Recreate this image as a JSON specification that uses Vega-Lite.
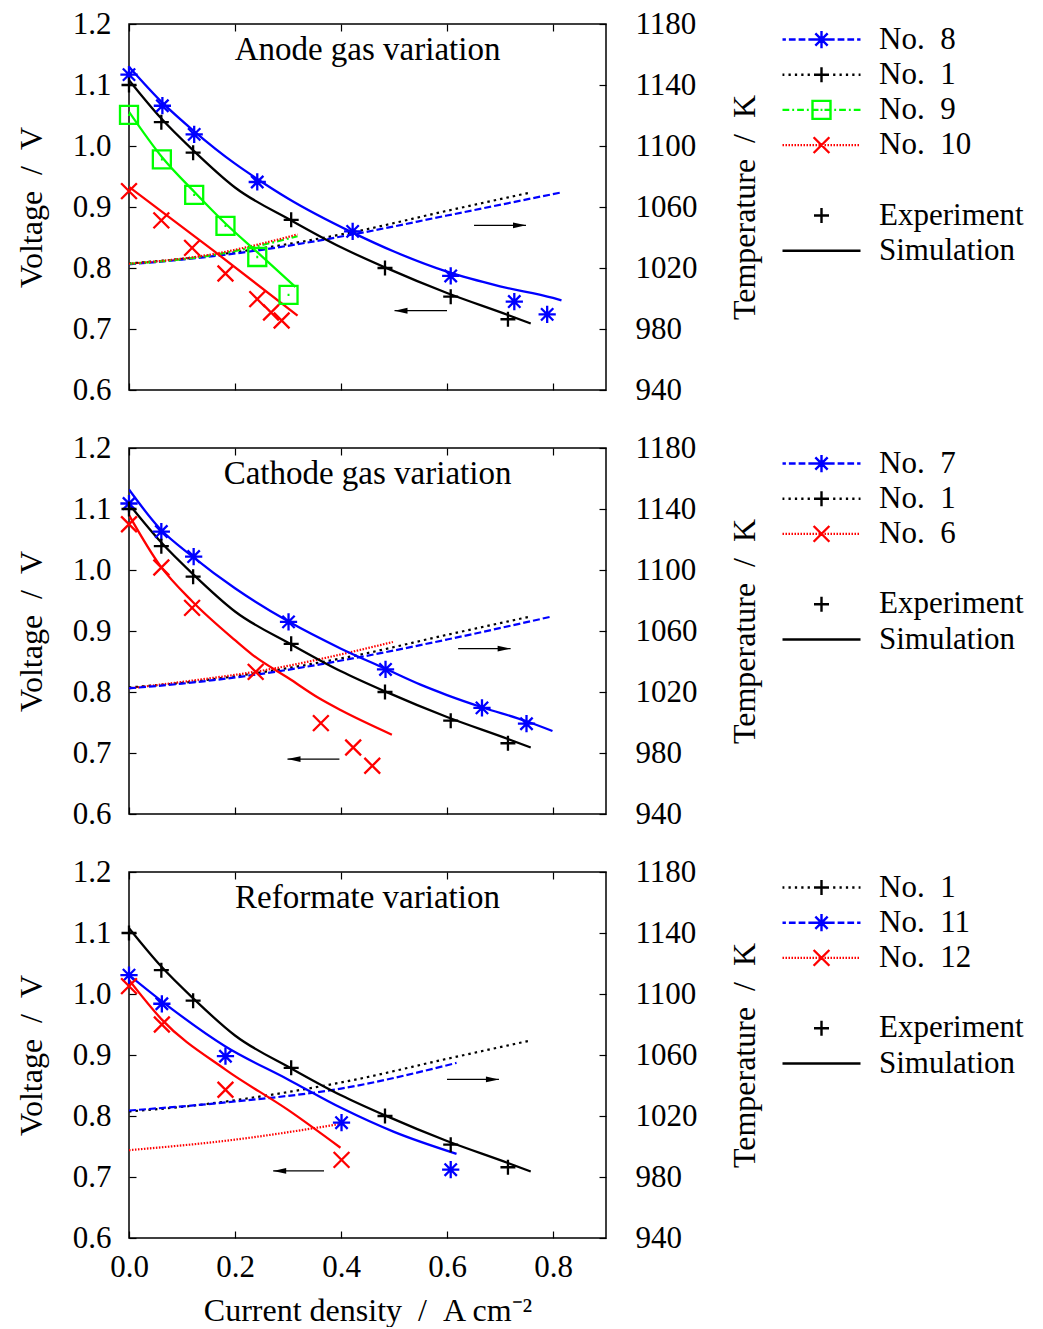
{
  "$schema": "https://vega.github.io/schema/vega-lite/v6.json",
  "background": "white",
  "padding": {"left": 14, "top": 7, "right": 0, "bottom": 0},
  "bounds": "flush",
  "spacing": 58,
  "config": {
    "view": {"stroke": "black", "strokeWidth": 1.5},
    "font": "Liberation Serif",
    "axis": {
      "labelFont": "Liberation Serif", "titleFont": "Liberation Serif",
      "labelFontSize": 31, "titleFontSize": 32, "labelColor": "black", "titleColor": "black",
      "titleFontWeight": "normal", "tickColor": "black", "tickWidth": 1.2, "tickSize": -7,
      "domain": false, "grid": false, "labelFlush": false, "labelOverlap": false
    }
  },
  "datasets": {
    "sim": [
      {"panel":1,"series":"No. 8","x":0,"v":1.130},{"panel":1,"series":"No. 8","x":0.063,"v":1.071},{"panel":1,"series":"No. 8","x":0.123,"v":1.024},{"panel":1,"series":"No. 8","x":0.2,"v":0.971},{"panel":1,"series":"No. 8","x":0.242,"v":0.946},{"panel":1,"series":"No. 8","x":0.3,"v":0.914},{"panel":1,"series":"No. 8","x":0.422,"v":0.858},{"panel":1,"series":"No. 8","x":0.5,"v":0.827},{"panel":1,"series":"No. 8","x":0.6,"v":0.794},{"panel":1,"series":"No. 8","x":0.7,"v":0.770},{"panel":1,"series":"No. 8","x":0.8,"v":0.751},{"panel":1,"series":"No. 8","x":0.816,"v":0.747},
      {"panel":1,"series":"No. 1","x":0,"v":1.108},{"panel":1,"series":"No. 1","x":0.061,"v":1.045},{"panel":1,"series":"No. 1","x":0.121,"v":0.993},{"panel":1,"series":"No. 1","x":0.2,"v":0.932},{"panel":1,"series":"No. 1","x":0.306,"v":0.878},{"panel":1,"series":"No. 1","x":0.4,"v":0.834},{"panel":1,"series":"No. 1","x":0.483,"v":0.801},{"panel":1,"series":"No. 1","x":0.6,"v":0.759},{"panel":1,"series":"No. 1","x":0.715,"v":0.723},{"panel":1,"series":"No. 1","x":0.758,"v":0.709},
      {"panel":1,"series":"No. 9","x":0,"v":1.056},{"panel":1,"series":"No. 9","x":0.062,"v":0.982},{"panel":1,"series":"No. 9","x":0.123,"v":0.925},{"panel":1,"series":"No. 9","x":0.182,"v":0.873},{"panel":1,"series":"No. 9","x":0.242,"v":0.826},{"panel":1,"series":"No. 9","x":0.314,"v":0.769},
      {"panel":1,"series":"No. 10","x":0,"v":0.933},{"panel":1,"series":"No. 10","x":0.16,"v":0.828},{"panel":1,"series":"No. 10","x":0.318,"v":0.722},
      {"panel":2,"series":"No. 7","x":0,"v":1.132},{"panel":2,"series":"No. 7","x":0.058,"v":1.068},{"panel":2,"series":"No. 7","x":0.12,"v":1.022},{"panel":2,"series":"No. 7","x":0.2,"v":0.970},{"panel":2,"series":"No. 7","x":0.302,"v":0.915},{"panel":2,"series":"No. 7","x":0.4,"v":0.871},{"panel":2,"series":"No. 7","x":0.484,"v":0.838},{"panel":2,"series":"No. 7","x":0.55,"v":0.812},{"panel":2,"series":"No. 7","x":0.6,"v":0.795},{"panel":2,"series":"No. 7","x":0.666,"v":0.775},{"panel":2,"series":"No. 7","x":0.75,"v":0.752},{"panel":2,"series":"No. 7","x":0.799,"v":0.736},
      {"panel":2,"series":"No. 1","x":0,"v":1.108},{"panel":2,"series":"No. 1","x":0.061,"v":1.045},{"panel":2,"series":"No. 1","x":0.121,"v":0.993},{"panel":2,"series":"No. 1","x":0.2,"v":0.932},{"panel":2,"series":"No. 1","x":0.306,"v":0.878},{"panel":2,"series":"No. 1","x":0.4,"v":0.834},{"panel":2,"series":"No. 1","x":0.483,"v":0.801},{"panel":2,"series":"No. 1","x":0.6,"v":0.759},{"panel":2,"series":"No. 1","x":0.715,"v":0.723},{"panel":2,"series":"No. 1","x":0.758,"v":0.709},
      {"panel":2,"series":"No. 6","x":0,"v":1.090},{"panel":2,"series":"No. 6","x":0.058,"v":1.008},{"panel":2,"series":"No. 6","x":0.12,"v":0.948},{"panel":2,"series":"No. 6","x":0.2,"v":0.885},{"panel":2,"series":"No. 6","x":0.233,"v":0.861},{"panel":2,"series":"No. 6","x":0.302,"v":0.822},{"panel":2,"series":"No. 6","x":0.358,"v":0.790},{"panel":2,"series":"No. 6","x":0.4,"v":0.770},{"panel":2,"series":"No. 6","x":0.496,"v":0.730},
      {"panel":3,"series":"No. 1","x":0,"v":1.108},{"panel":3,"series":"No. 1","x":0.061,"v":1.045},{"panel":3,"series":"No. 1","x":0.121,"v":0.993},{"panel":3,"series":"No. 1","x":0.2,"v":0.932},{"panel":3,"series":"No. 1","x":0.306,"v":0.878},{"panel":3,"series":"No. 1","x":0.4,"v":0.834},{"panel":3,"series":"No. 1","x":0.483,"v":0.801},{"panel":3,"series":"No. 1","x":0.6,"v":0.759},{"panel":3,"series":"No. 1","x":0.715,"v":0.723},{"panel":3,"series":"No. 1","x":0.758,"v":0.709},
      {"panel":3,"series":"No. 11","x":0,"v":1.031},{"panel":3,"series":"No. 11","x":0.062,"v":0.988},{"panel":3,"series":"No. 11","x":0.182,"v":0.914},{"panel":3,"series":"No. 11","x":0.3,"v":0.860},{"panel":3,"series":"No. 11","x":0.401,"v":0.813},{"panel":3,"series":"No. 11","x":0.5,"v":0.774},{"panel":3,"series":"No. 11","x":0.618,"v":0.738},
      {"panel":3,"series":"No. 12","x":0,"v":1.023},{"panel":3,"series":"No. 12","x":0.062,"v":0.958},{"panel":3,"series":"No. 12","x":0.182,"v":0.876},{"panel":3,"series":"No. 12","x":0.3,"v":0.810},{"panel":3,"series":"No. 12","x":0.399,"v":0.748}
    ],
    "exp": [
      {"panel":1,"series":"No. 8","x":0,"v":1.117},{"panel":1,"series":"No. 8","x":0.063,"v":1.066},{"panel":1,"series":"No. 8","x":0.123,"v":1.019},{"panel":1,"series":"No. 8","x":0.242,"v":0.941},{"panel":1,"series":"No. 8","x":0.422,"v":0.860},{"panel":1,"series":"No. 8","x":0.607,"v":0.787},{"panel":1,"series":"No. 8","x":0.727,"v":0.745},{"panel":1,"series":"No. 8","x":0.789,"v":0.724},
      {"panel":1,"series":"No. 1","x":0,"v":1.100},{"panel":1,"series":"No. 1","x":0.061,"v":1.039},{"panel":1,"series":"No. 1","x":0.121,"v":0.989},{"panel":1,"series":"No. 1","x":0.306,"v":0.879},{"panel":1,"series":"No. 1","x":0.483,"v":0.800},{"panel":1,"series":"No. 1","x":0.607,"v":0.753},{"panel":1,"series":"No. 1","x":0.715,"v":0.716},
      {"panel":1,"series":"No. 9","x":0,"v":1.051},{"panel":1,"series":"No. 9","x":0.062,"v":0.978},{"panel":1,"series":"No. 9","x":0.123,"v":0.920},{"panel":1,"series":"No. 9","x":0.182,"v":0.869},{"panel":1,"series":"No. 9","x":0.242,"v":0.818},{"panel":1,"series":"No. 9","x":0.301,"v":0.756},
      {"panel":1,"series":"No. 10","x":0,"v":0.926},{"panel":1,"series":"No. 10","x":0.061,"v":0.878},{"panel":1,"series":"No. 10","x":0.119,"v":0.833},{"panel":1,"series":"No. 10","x":0.182,"v":0.791},{"panel":1,"series":"No. 10","x":0.242,"v":0.749},{"panel":1,"series":"No. 10","x":0.268,"v":0.727},{"panel":1,"series":"No. 10","x":0.288,"v":0.714},
      {"panel":2,"series":"No. 7","x":0,"v":1.109},{"panel":2,"series":"No. 7","x":0.061,"v":1.063},{"panel":2,"series":"No. 7","x":0.122,"v":1.022},{"panel":2,"series":"No. 7","x":0.301,"v":0.915},{"panel":2,"series":"No. 7","x":0.484,"v":0.837},{"panel":2,"series":"No. 7","x":0.666,"v":0.774},{"panel":2,"series":"No. 7","x":0.750,"v":0.748},
      {"panel":2,"series":"No. 1","x":0,"v":1.100},{"panel":2,"series":"No. 1","x":0.061,"v":1.039},{"panel":2,"series":"No. 1","x":0.121,"v":0.989},{"panel":2,"series":"No. 1","x":0.306,"v":0.879},{"panel":2,"series":"No. 1","x":0.483,"v":0.800},{"panel":2,"series":"No. 1","x":0.607,"v":0.753},{"panel":2,"series":"No. 1","x":0.715,"v":0.716},
      {"panel":2,"series":"No. 6","x":0,"v":1.075},{"panel":2,"series":"No. 6","x":0.061,"v":1.004},{"panel":2,"series":"No. 6","x":0.119,"v":0.938},{"panel":2,"series":"No. 6","x":0.239,"v":0.833},{"panel":2,"series":"No. 6","x":0.362,"v":0.749},{"panel":2,"series":"No. 6","x":0.423,"v":0.709},{"panel":2,"series":"No. 6","x":0.459,"v":0.679},
      {"panel":3,"series":"No. 1","x":0,"v":1.100},{"panel":3,"series":"No. 1","x":0.061,"v":1.039},{"panel":3,"series":"No. 1","x":0.121,"v":0.989},{"panel":3,"series":"No. 1","x":0.306,"v":0.879},{"panel":3,"series":"No. 1","x":0.483,"v":0.800},{"panel":3,"series":"No. 1","x":0.607,"v":0.753},{"panel":3,"series":"No. 1","x":0.715,"v":0.716},
      {"panel":3,"series":"No. 11","x":0,"v":1.031},{"panel":3,"series":"No. 11","x":0.062,"v":0.984},{"panel":3,"series":"No. 11","x":0.182,"v":0.898},{"panel":3,"series":"No. 11","x":0.401,"v":0.789},{"panel":3,"series":"No. 11","x":0.607,"v":0.712},
      {"panel":3,"series":"No. 12","x":0,"v":1.013},{"panel":3,"series":"No. 12","x":0.062,"v":0.950},{"panel":3,"series":"No. 12","x":0.182,"v":0.843},{"panel":3,"series":"No. 12","x":0.401,"v":0.728}
    ],
    "temp": [
      {"panel":1,"series":"No. 1","x":0,"T":1023},{"panel":1,"series":"No. 1","x":0.1,"T":1026},{"panel":1,"series":"No. 1","x":0.242,"T":1032.5},{"panel":1,"series":"No. 1","x":0.422,"T":1043.5},{"panel":1,"series":"No. 1","x":0.6,"T":1057.5},{"panel":1,"series":"No. 1","x":0.759,"T":1069.6},
      {"panel":1,"series":"No. 8","x":0,"T":1022.4},{"panel":1,"series":"No. 8","x":0.1,"T":1025.5},{"panel":1,"series":"No. 8","x":0.242,"T":1031.5},{"panel":1,"series":"No. 8","x":0.422,"T":1042},{"panel":1,"series":"No. 8","x":0.6,"T":1054.4},{"panel":1,"series":"No. 8","x":0.816,"T":1069.6},
      {"panel":1,"series":"No. 9","x":0,"T":1022.8},{"panel":1,"series":"No. 9","x":0.15,"T":1028},{"panel":1,"series":"No. 9","x":0.318,"T":1040.8},
      {"panel":1,"series":"No. 10","x":0,"T":1022.8},{"panel":1,"series":"No. 10","x":0.15,"T":1028.6},{"panel":1,"series":"No. 10","x":0.318,"T":1042},
      {"panel":2,"series":"No. 1","x":0,"T":1023},{"panel":2,"series":"No. 1","x":0.1,"T":1026},{"panel":2,"series":"No. 1","x":0.242,"T":1032.5},{"panel":2,"series":"No. 1","x":0.422,"T":1043.5},{"panel":2,"series":"No. 1","x":0.6,"T":1057.5},{"panel":2,"series":"No. 1","x":0.759,"T":1069.6},
      {"panel":2,"series":"No. 6","x":0,"T":1022.4},{"panel":2,"series":"No. 6","x":0.12,"T":1027.5},{"panel":2,"series":"No. 6","x":0.242,"T":1033.5},{"panel":2,"series":"No. 6","x":0.498,"T":1052.8},
      {"panel":2,"series":"No. 7","x":0,"T":1022.4},{"panel":2,"series":"No. 7","x":0.1,"T":1025.5},{"panel":2,"series":"No. 7","x":0.242,"T":1031.5},{"panel":2,"series":"No. 7","x":0.422,"T":1042},{"panel":2,"series":"No. 7","x":0.6,"T":1054.4},{"panel":2,"series":"No. 7","x":0.799,"T":1069.6},
      {"panel":3,"series":"No. 12","x":0,"T":997.6},{"panel":3,"series":"No. 12","x":0.2,"T":1004.5},{"panel":3,"series":"No. 12","x":0.399,"T":1014.8},
      {"panel":3,"series":"No. 1","x":0,"T":1023},{"panel":3,"series":"No. 1","x":0.1,"T":1026},{"panel":3,"series":"No. 1","x":0.242,"T":1032.5},{"panel":3,"series":"No. 1","x":0.422,"T":1043.5},{"panel":3,"series":"No. 1","x":0.6,"T":1057.5},{"panel":3,"series":"No. 1","x":0.759,"T":1069.6},
      {"panel":3,"series":"No. 11","x":0,"T":1023.6},{"panel":3,"series":"No. 11","x":0.2,"T":1029.5},{"panel":3,"series":"No. 11","x":0.4,"T":1038},{"panel":3,"series":"No. 11","x":0.618,"T":1054.8}
    ],
    "arrows": [
      {"panel":1,"dir":"right","x":0.749,"x2":0.651,"v":0.870},{"panel":1,"dir":"left","x":0.501,"x2":0.600,"v":0.730},
      {"panel":2,"dir":"right","x":0.720,"x2":0.621,"v":0.871},{"panel":2,"dir":"left","x":0.299,"x2":0.397,"v":0.690},
      {"panel":3,"dir":"right","x":0.698,"x2":0.600,"v":0.860},{"panel":3,"dir":"left","x":0.272,"x2":0.368,"v":0.710}
    ],
    "labels": [
      {"panel":1,"x":0.45,"v":1.157,"label":"Anode gas variation"},
      {"panel":2,"x":0.45,"v":1.157,"label":"Cathode gas variation"},
      {"panel":3,"x":0.45,"v":1.157,"label":"Reformate variation"}
    ]
  },
  "resolve": {"scale": {"color": "independent", "shape": "independent", "strokeDash": "independent", "opacity": "independent", "x": "independent", "y": "independent"}, "legend": {"opacity": "independent"}},
  "vconcat": [
    {
      "width": 477, "height": 366,
      "resolve": {"scale": {"y": "independent"}, "axis": {"x": "independent", "y": "independent"}},
      "layer": [
        {
          "data": {"name": "temp"}, "transform": [{"filter": "datum.panel == 1"}],
          "mark": {"type": "line", "strokeWidth": 2.2, "clip": true, "interpolate": "monotone"},
          "encoding": {
            "x": {"field": "x", "type": "quantitative", "scale": {"domain": [0, 0.9], "nice": false, "zero": false}, "axis": {"orient": "top", "values": [0, 0.2, 0.4, 0.6, 0.8], "labels": false, "title": null}},
            "y": {"field": "T", "type": "quantitative", "scale": {"domain": [940, 1180], "nice": false, "zero": false}, "axis": {"orient": "right", "values": [940, 980, 1020, 1060, 1100, 1140, 1180], "format": "d", "labelPadding": 36, "title": "Temperature\u2002/\u2002K", "titleAngle": -90, "titlePadding": 64}},
            "color": {"field": "series", "type": "nominal", "scale": {"domain": ["No. 8", "No. 1", "No. 9", "No. 10"], "range": ["#0000ff", "#000000", "#00ff00", "#ff0000"]}, "legend": null},
            "strokeDash": {"field": "series", "type": "nominal", "scale": {"domain": ["No. 8", "No. 1", "No. 9", "No. 10"], "range": [[7, 3], [2.5, 4], [7, 3, 2, 3], [1.5, 1.5]]}, "legend": null}
          }
        },
        {
          "encoding": {
            "x": {"field": "x", "type": "quantitative", "scale": {"domain": [0, 0.9], "nice": false, "zero": false}, "axis": {"orient": "bottom", "values": [0, 0.2, 0.4, 0.6, 0.8], "labels": false, "title": null}},
            "y": {"field": "v", "type": "quantitative", "scale": {"domain": [0.6, 1.2], "nice": false, "zero": false}, "axis": {"orient": "left", "values": [0.6, 0.7, 0.8, 0.9, 1.0, 1.1, 1.2], "format": ".1f", "labelPadding": 25, "title": "Voltage\u2002/\u2002V", "titlePadding": 24}}
          },
          "layer": [
            {
              "data": {"name": "sim"}, "transform": [{"filter": "datum.panel == 1"}],
              "mark": {"type": "line", "strokeWidth": 2.3, "clip": true, "interpolate": "monotone"},
              "encoding": {"color": {"field": "series", "type": "nominal", "scale": {"domain": ["No. 8", "No. 1", "No. 9", "No. 10"], "range": ["#0000ff", "#000000", "#00ff00", "#ff0000"]}, "legend": null}}
            },
            {
              "data": {"name": "exp"}, "transform": [{"filter": "datum.panel == 1"}],
              "mark": {"type": "point", "filled": false, "strokeWidth": 2.3, "size": 225},
              "encoding": {
                "color": {"field": "series", "type": "nominal", "scale": {"domain": ["No. 8", "No. 1", "No. 9", "No. 10"], "range": ["#0000ff", "#000000", "#00ff00", "#ff0000"]}, "legend": null},
                "shape": {"field": "series", "type": "nominal",
                  "scale": {"domain": ["No. 8", "No. 1", "No. 9", "No. 10"], "range": ["M-1.15,0H1.15M0,-1.15V1.15M-0.82,-0.82L0.82,0.82M-0.82,0.82L0.82,-0.82", "M-1,0H1M0,-1V1", "M-1.2,-1.2H1.2V1.2H-1.2ZM-0.13,0H0.13", "M-1.05,-1.05L1.05,1.05M-1.05,1.05L1.05,-1.05"]}, "legend": null},
                "opacity": {"field": "series", "type": "nominal",
                  "scale": {"domain": ["No. 8", "No. 1", "No. 9", "No. 10", " ", "Experiment", "Simulation"], "range": [1, 1, 1, 1, 1, 1, 1]},
                  "legend": {
                    "orient": "none", "legendX": 677, "legendY": 0, "title": null, "direction": "vertical",
                    "symbolSize": 225, "symbolStrokeWidth": 2.4, "padding": 0, "rowPadding": 3.2,
                    "labelFont": "Liberation Serif", "labelFontSize": 31, "labelColor": "black", "labelOffset": 42,
                    "labelExpr": "replace(datum.label, 'No. ', 'No.\u2002')",
                    "encoding": {"symbols": {
                      "shape": {"value": {"signal": "indexof(['No. 8','No. 7','No. 11'], datum.value) >= 0 ? 'M-5.2,0H-4.75M-4.35,0H-3.45M-3.05,0H-2.15M-1.75,0H-0.85M-0.45,0H0.45M0.85,0H1.75M2.15,0H3.05M3.45,0H4.35M4.75,0H5.2M-1.15,0H1.15M0,-1.15V1.15M-0.82,-0.82L0.82,0.82M-0.82,0.82L0.82,-0.82' : datum.value === 'No. 1' ? 'M-5.2,0H-4.95M-4.4,0H-4.1M-3.55,0H-3.25M-2.7,0H-2.4M-1.85,0H-1.55M-1,0H-0.7M-0.15,0H0.15M0.7,0H1M1.55,0H1.85M2.4,0H2.7M3.25,0H3.55M4.1,0H4.4M4.95,0H5.2M-1,0H1M0,-1V1' : datum.value === 'No. 9' ? 'M-5.2,0H-4.3M-3.9,0H-3.65M-3.25,0H-2.35M-1.95,0H-1.7M-1.3,0H-0.4M-0.125,0H0.125M0.4,0H1.3M1.7,0H1.95M2.35,0H3.25M3.65,0H3.9M4.3,0H5.2M-1.2,-1.2H1.2V1.2H-1.2Z' : indexof(['No. 10','No. 6','No. 12'], datum.value) >= 0 ? 'M-5.2,0H-5M-4.8,0H-4.6M-4.4,0H-4.2M-4,0H-3.8M-3.6,0H-3.4M-3.2,0H-3M-2.8,0H-2.6M-2.4,0H-2.2M-2,0H-1.8M-1.6,0H-1.4M-1.2,0H-1M-0.8,0H-0.6M-0.4,0H-0.2M0,0H0.2M0.4,0H0.6M0.8,0H1M1.2,0H1.4M1.6,0H1.8M2,0H2.2M2.4,0H2.6M2.8,0H3M3.2,0H3.4M3.6,0H3.8M4,0H4.2M4.4,0H4.6M4.8,0H5M-1.05,-1.05L1.05,1.05M-1.05,1.05L1.05,-1.05' : datum.value === 'Experiment' ? 'M-1,0H1M0,-1V1' : datum.value === 'Simulation' ? 'M-5.2,0H5.2' : 'M0,0'"}},
                      "stroke": {"value": {"signal": "indexof(['No. 8','No. 7','No. 11'], datum.value) >= 0 ? '#0000ff' : datum.value === 'No. 9' ? '#00ff00' : indexof(['No. 10','No. 6','No. 12'], datum.value) >= 0 ? '#ff0000' : datum.value === ' ' ? 'transparent' : '#000000'"}},
                      "strokeWidth": {"value": 2.4}, "fill": {"value": "transparent"}
                    }}
                  }
                }
              }
            },
            {
              "data": {"name": "arrows"}, "transform": [{"filter": "datum.panel == 1"}],
              "mark": {"type": "rule", "color": "black", "strokeWidth": 1.3},
              "encoding": {"x2": {"field": "x2"}}
            },
            {
              "data": {"name": "arrows"}, "transform": [{"filter": "datum.panel == 1 && datum.dir == 'right'"}],
              "mark": {"type": "point", "shape": "M0,0L-2,-0.45L-2,0.45Z", "filled": true, "size": 169, "color": "black", "opacity": 1, "strokeWidth": 0}
            },
            {
              "data": {"name": "arrows"}, "transform": [{"filter": "datum.panel == 1 && datum.dir == 'left'"}],
              "mark": {"type": "point", "shape": "M0,0L2,-0.45L2,0.45Z", "filled": true, "size": 169, "color": "black", "opacity": 1, "strokeWidth": 0}
            },
            {
              "data": {"name": "labels"}, "transform": [{"filter": "datum.panel == 1"}],
              "mark": {"type": "text", "font": "Liberation Serif", "fontSize": 33, "baseline": "middle", "align": "center", "color": "black"},
              "encoding": {"text": {"field": "label"}}
            }
          ]
        }
      ]
    },
    {
      "width": 477, "height": 366,
      "resolve": {"scale": {"y": "independent"}, "axis": {"x": "independent", "y": "independent"}},
      "layer": [
        {
          "data": {"name": "temp"}, "transform": [{"filter": "datum.panel == 2"}],
          "mark": {"type": "line", "strokeWidth": 2.2, "clip": true, "interpolate": "monotone"},
          "encoding": {
            "x": {"field": "x", "type": "quantitative", "scale": {"domain": [0, 0.9], "nice": false, "zero": false}, "axis": {"orient": "top", "values": [0, 0.2, 0.4, 0.6, 0.8], "labels": false, "title": null}},
            "y": {"field": "T", "type": "quantitative", "scale": {"domain": [940, 1180], "nice": false, "zero": false}, "axis": {"orient": "right", "values": [940, 980, 1020, 1060, 1100, 1140, 1180], "format": "d", "labelPadding": 36, "title": "Temperature\u2002/\u2002K", "titleAngle": -90, "titlePadding": 64}},
            "color": {"field": "series", "type": "nominal", "scale": {"domain": ["No. 7", "No. 1", "No. 6"], "range": ["#0000ff", "#000000", "#ff0000"]}, "legend": null},
            "strokeDash": {"field": "series", "type": "nominal", "scale": {"domain": ["No. 7", "No. 1", "No. 6"], "range": [[7, 3], [2.5, 4], [1.5, 1.5]]}, "legend": null}
          }
        },
        {
          "encoding": {
            "x": {"field": "x", "type": "quantitative", "scale": {"domain": [0, 0.9], "nice": false, "zero": false}, "axis": {"orient": "bottom", "values": [0, 0.2, 0.4, 0.6, 0.8], "labels": false, "title": null}},
            "y": {"field": "v", "type": "quantitative", "scale": {"domain": [0.6, 1.2], "nice": false, "zero": false}, "axis": {"orient": "left", "values": [0.6, 0.7, 0.8, 0.9, 1.0, 1.1, 1.2], "format": ".1f", "labelPadding": 25, "title": "Voltage\u2002/\u2002V", "titlePadding": 24}}
          },
          "layer": [
            {
              "data": {"name": "sim"}, "transform": [{"filter": "datum.panel == 2"}],
              "mark": {"type": "line", "strokeWidth": 2.3, "clip": true, "interpolate": "monotone"},
              "encoding": {"color": {"field": "series", "type": "nominal", "scale": {"domain": ["No. 7", "No. 1", "No. 6"], "range": ["#0000ff", "#000000", "#ff0000"]}, "legend": null}}
            },
            {
              "data": {"name": "exp"}, "transform": [{"filter": "datum.panel == 2"}],
              "mark": {"type": "point", "filled": false, "strokeWidth": 2.3, "size": 225},
              "encoding": {
                "color": {"field": "series", "type": "nominal", "scale": {"domain": ["No. 7", "No. 1", "No. 6"], "range": ["#0000ff", "#000000", "#ff0000"]}, "legend": null},
                "shape": {"field": "series", "type": "nominal",
                  "scale": {"domain": ["No. 7", "No. 1", "No. 6"], "range": ["M-1.15,0H1.15M0,-1.15V1.15M-0.82,-0.82L0.82,0.82M-0.82,0.82L0.82,-0.82", "M-1,0H1M0,-1V1", "M-1.05,-1.05L1.05,1.05M-1.05,1.05L1.05,-1.05"]}, "legend": null},
                "opacity": {"field": "series", "type": "nominal",
                  "scale": {"domain": ["No. 7", "No. 1", "No. 6", " ", "Experiment", "Simulation"], "range": [1, 1, 1, 1, 1, 1]},
                  "legend": {
                    "orient": "none", "legendX": 677, "legendY": 0, "title": null, "direction": "vertical",
                    "symbolSize": 225, "symbolStrokeWidth": 2.4, "padding": 0, "rowPadding": 3.2,
                    "labelFont": "Liberation Serif", "labelFontSize": 31, "labelColor": "black", "labelOffset": 42,
                    "labelExpr": "replace(datum.label, 'No. ', 'No.\u2002')",
                    "encoding": {"symbols": {
                      "shape": {"value": {"signal": "indexof(['No. 8','No. 7','No. 11'], datum.value) >= 0 ? 'M-5.2,0H-4.75M-4.35,0H-3.45M-3.05,0H-2.15M-1.75,0H-0.85M-0.45,0H0.45M0.85,0H1.75M2.15,0H3.05M3.45,0H4.35M4.75,0H5.2M-1.15,0H1.15M0,-1.15V1.15M-0.82,-0.82L0.82,0.82M-0.82,0.82L0.82,-0.82' : datum.value === 'No. 1' ? 'M-5.2,0H-4.95M-4.4,0H-4.1M-3.55,0H-3.25M-2.7,0H-2.4M-1.85,0H-1.55M-1,0H-0.7M-0.15,0H0.15M0.7,0H1M1.55,0H1.85M2.4,0H2.7M3.25,0H3.55M4.1,0H4.4M4.95,0H5.2M-1,0H1M0,-1V1' : datum.value === 'No. 9' ? 'M-5.2,0H-4.3M-3.9,0H-3.65M-3.25,0H-2.35M-1.95,0H-1.7M-1.3,0H-0.4M-0.125,0H0.125M0.4,0H1.3M1.7,0H1.95M2.35,0H3.25M3.65,0H3.9M4.3,0H5.2M-1.2,-1.2H1.2V1.2H-1.2Z' : indexof(['No. 10','No. 6','No. 12'], datum.value) >= 0 ? 'M-5.2,0H-5M-4.8,0H-4.6M-4.4,0H-4.2M-4,0H-3.8M-3.6,0H-3.4M-3.2,0H-3M-2.8,0H-2.6M-2.4,0H-2.2M-2,0H-1.8M-1.6,0H-1.4M-1.2,0H-1M-0.8,0H-0.6M-0.4,0H-0.2M0,0H0.2M0.4,0H0.6M0.8,0H1M1.2,0H1.4M1.6,0H1.8M2,0H2.2M2.4,0H2.6M2.8,0H3M3.2,0H3.4M3.6,0H3.8M4,0H4.2M4.4,0H4.6M4.8,0H5M-1.05,-1.05L1.05,1.05M-1.05,1.05L1.05,-1.05' : datum.value === 'Experiment' ? 'M-1,0H1M0,-1V1' : datum.value === 'Simulation' ? 'M-5.2,0H5.2' : 'M0,0'"}},
                      "stroke": {"value": {"signal": "indexof(['No. 8','No. 7','No. 11'], datum.value) >= 0 ? '#0000ff' : datum.value === 'No. 9' ? '#00ff00' : indexof(['No. 10','No. 6','No. 12'], datum.value) >= 0 ? '#ff0000' : datum.value === ' ' ? 'transparent' : '#000000'"}},
                      "strokeWidth": {"value": 2.4}, "fill": {"value": "transparent"}
                    }}
                  }
                }
              }
            },
            {
              "data": {"name": "arrows"}, "transform": [{"filter": "datum.panel == 2"}],
              "mark": {"type": "rule", "color": "black", "strokeWidth": 1.3},
              "encoding": {"x2": {"field": "x2"}}
            },
            {
              "data": {"name": "arrows"}, "transform": [{"filter": "datum.panel == 2 && datum.dir == 'right'"}],
              "mark": {"type": "point", "shape": "M0,0L-2,-0.45L-2,0.45Z", "filled": true, "size": 169, "color": "black", "opacity": 1, "strokeWidth": 0}
            },
            {
              "data": {"name": "arrows"}, "transform": [{"filter": "datum.panel == 2 && datum.dir == 'left'"}],
              "mark": {"type": "point", "shape": "M0,0L2,-0.45L2,0.45Z", "filled": true, "size": 169, "color": "black", "opacity": 1, "strokeWidth": 0}
            },
            {
              "data": {"name": "labels"}, "transform": [{"filter": "datum.panel == 2"}],
              "mark": {"type": "text", "font": "Liberation Serif", "fontSize": 33, "baseline": "middle", "align": "center", "color": "black"},
              "encoding": {"text": {"field": "label"}}
            }
          ]
        }
      ]
    },
    {
      "width": 477, "height": 366,
      "resolve": {"scale": {"y": "independent"}, "axis": {"x": "independent", "y": "independent"}},
      "layer": [
        {
          "data": {"name": "temp"}, "transform": [{"filter": "datum.panel == 3"}],
          "mark": {"type": "line", "strokeWidth": 2.2, "clip": true, "interpolate": "monotone"},
          "encoding": {
            "x": {"field": "x", "type": "quantitative", "scale": {"domain": [0, 0.9], "nice": false, "zero": false}, "axis": {"orient": "top", "values": [0, 0.2, 0.4, 0.6, 0.8], "labels": false, "title": null}},
            "y": {"field": "T", "type": "quantitative", "scale": {"domain": [940, 1180], "nice": false, "zero": false}, "axis": {"orient": "right", "values": [940, 980, 1020, 1060, 1100, 1140, 1180], "format": "d", "labelPadding": 36, "title": "Temperature\u2002/\u2002K", "titleAngle": -90, "titlePadding": 64}},
            "color": {"field": "series", "type": "nominal", "scale": {"domain": ["No. 1", "No. 11", "No. 12"], "range": ["#000000", "#0000ff", "#ff0000"]}, "legend": null},
            "strokeDash": {"field": "series", "type": "nominal", "scale": {"domain": ["No. 1", "No. 11", "No. 12"], "range": [[2.5, 4], [7, 3], [1.5, 1.5]]}, "legend": null}
          }
        },
        {
          "encoding": {
            "x": {"field": "x", "type": "quantitative", "scale": {"domain": [0, 0.9], "nice": false, "zero": false}, "axis": {"orient": "bottom", "values": [0, 0.2, 0.4, 0.6, 0.8], "format": ".1f", "labelPadding": 21, "title": "Current density\u2002/\u2002A\u2009cm⁻²", "titlePadding": 13}},
            "y": {"field": "v", "type": "quantitative", "scale": {"domain": [0.6, 1.2], "nice": false, "zero": false}, "axis": {"orient": "left", "values": [0.6, 0.7, 0.8, 0.9, 1.0, 1.1, 1.2], "format": ".1f", "labelPadding": 25, "title": "Voltage\u2002/\u2002V", "titlePadding": 24}}
          },
          "layer": [
            {
              "data": {"name": "sim"}, "transform": [{"filter": "datum.panel == 3"}],
              "mark": {"type": "line", "strokeWidth": 2.3, "clip": true, "interpolate": "monotone"},
              "encoding": {"color": {"field": "series", "type": "nominal", "scale": {"domain": ["No. 1", "No. 11", "No. 12"], "range": ["#000000", "#0000ff", "#ff0000"]}, "legend": null}}
            },
            {
              "data": {"name": "exp"}, "transform": [{"filter": "datum.panel == 3"}],
              "mark": {"type": "point", "filled": false, "strokeWidth": 2.3, "size": 225},
              "encoding": {
                "color": {"field": "series", "type": "nominal", "scale": {"domain": ["No. 1", "No. 11", "No. 12"], "range": ["#000000", "#0000ff", "#ff0000"]}, "legend": null},
                "shape": {"field": "series", "type": "nominal",
                  "scale": {"domain": ["No. 1", "No. 11", "No. 12"], "range": ["M-1,0H1M0,-1V1", "M-1.15,0H1.15M0,-1.15V1.15M-0.82,-0.82L0.82,0.82M-0.82,0.82L0.82,-0.82", "M-1.05,-1.05L1.05,1.05M-1.05,1.05L1.05,-1.05"]}, "legend": null},
                "opacity": {"field": "series", "type": "nominal",
                  "scale": {"domain": ["No. 1", "No. 11", "No. 12", " ", "Experiment", "Simulation"], "range": [1, 1, 1, 1, 1, 1]},
                  "legend": {
                    "orient": "none", "legendX": 677, "legendY": 0, "title": null, "direction": "vertical",
                    "symbolSize": 225, "symbolStrokeWidth": 2.4, "padding": 0, "rowPadding": 3.2,
                    "labelFont": "Liberation Serif", "labelFontSize": 31, "labelColor": "black", "labelOffset": 42,
                    "labelExpr": "replace(datum.label, 'No. ', 'No.\u2002')",
                    "encoding": {"symbols": {
                      "shape": {"value": {"signal": "indexof(['No. 8','No. 7','No. 11'], datum.value) >= 0 ? 'M-5.2,0H-4.75M-4.35,0H-3.45M-3.05,0H-2.15M-1.75,0H-0.85M-0.45,0H0.45M0.85,0H1.75M2.15,0H3.05M3.45,0H4.35M4.75,0H5.2M-1.15,0H1.15M0,-1.15V1.15M-0.82,-0.82L0.82,0.82M-0.82,0.82L0.82,-0.82' : datum.value === 'No. 1' ? 'M-5.2,0H-4.95M-4.4,0H-4.1M-3.55,0H-3.25M-2.7,0H-2.4M-1.85,0H-1.55M-1,0H-0.7M-0.15,0H0.15M0.7,0H1M1.55,0H1.85M2.4,0H2.7M3.25,0H3.55M4.1,0H4.4M4.95,0H5.2M-1,0H1M0,-1V1' : datum.value === 'No. 9' ? 'M-5.2,0H-4.3M-3.9,0H-3.65M-3.25,0H-2.35M-1.95,0H-1.7M-1.3,0H-0.4M-0.125,0H0.125M0.4,0H1.3M1.7,0H1.95M2.35,0H3.25M3.65,0H3.9M4.3,0H5.2M-1.2,-1.2H1.2V1.2H-1.2Z' : indexof(['No. 10','No. 6','No. 12'], datum.value) >= 0 ? 'M-5.2,0H-5M-4.8,0H-4.6M-4.4,0H-4.2M-4,0H-3.8M-3.6,0H-3.4M-3.2,0H-3M-2.8,0H-2.6M-2.4,0H-2.2M-2,0H-1.8M-1.6,0H-1.4M-1.2,0H-1M-0.8,0H-0.6M-0.4,0H-0.2M0,0H0.2M0.4,0H0.6M0.8,0H1M1.2,0H1.4M1.6,0H1.8M2,0H2.2M2.4,0H2.6M2.8,0H3M3.2,0H3.4M3.6,0H3.8M4,0H4.2M4.4,0H4.6M4.8,0H5M-1.05,-1.05L1.05,1.05M-1.05,1.05L1.05,-1.05' : datum.value === 'Experiment' ? 'M-1,0H1M0,-1V1' : datum.value === 'Simulation' ? 'M-5.2,0H5.2' : 'M0,0'"}},
                      "stroke": {"value": {"signal": "indexof(['No. 8','No. 7','No. 11'], datum.value) >= 0 ? '#0000ff' : datum.value === 'No. 9' ? '#00ff00' : indexof(['No. 10','No. 6','No. 12'], datum.value) >= 0 ? '#ff0000' : datum.value === ' ' ? 'transparent' : '#000000'"}},
                      "strokeWidth": {"value": 2.4}, "fill": {"value": "transparent"}
                    }}
                  }
                }
              }
            },
            {
              "data": {"name": "arrows"}, "transform": [{"filter": "datum.panel == 3"}],
              "mark": {"type": "rule", "color": "black", "strokeWidth": 1.3},
              "encoding": {"x2": {"field": "x2"}}
            },
            {
              "data": {"name": "arrows"}, "transform": [{"filter": "datum.panel == 3 && datum.dir == 'right'"}],
              "mark": {"type": "point", "shape": "M0,0L-2,-0.45L-2,0.45Z", "filled": true, "size": 169, "color": "black", "opacity": 1, "strokeWidth": 0}
            },
            {
              "data": {"name": "arrows"}, "transform": [{"filter": "datum.panel == 3 && datum.dir == 'left'"}],
              "mark": {"type": "point", "shape": "M0,0L2,-0.45L2,0.45Z", "filled": true, "size": 169, "color": "black", "opacity": 1, "strokeWidth": 0}
            },
            {
              "data": {"name": "labels"}, "transform": [{"filter": "datum.panel == 3"}],
              "mark": {"type": "text", "font": "Liberation Serif", "fontSize": 33, "baseline": "middle", "align": "center", "color": "black"},
              "encoding": {"text": {"field": "label"}}
            }
          ]
        }
      ]
    }
  ]
}
